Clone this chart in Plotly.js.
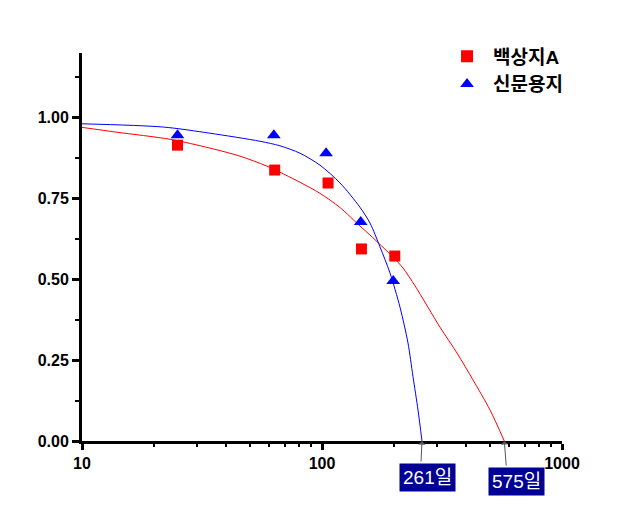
<!DOCTYPE html>
<html>
<head>
<meta charset="utf-8">
<script src="https://cdn.plot.ly/plotly-3.0.1.min.js"></script>
<style>html,body{margin:0;padding:0;background:#fff;}#chart{width:625px;height:524px;}</style>
</head>
<body>
<div id="chart"></div>
<script>
// Measured points
const seriesNames = ['백상지A', '신문용지'];
const paperA_x = [25, 63.5, 106, 146, 201];
const paperA_y = [0.915, 0.838, 0.798, 0.594, 0.572];
const news_x = [25, 63, 104, 145, 198];
const news_y = [0.946, 0.946, 0.89, 0.677, 0.495];

// Fitted curves
const paperA_fit_x = [10, 14.0, 23.3, 34.1, 45.5, 59.0, 81.0, 98.1, 118.9, 143.9, 158.5, 197.6, 217.5, 244.1, 310.2, 365.2, 425.6, 501.2, 575];
const paperA_fit_y = [0.97, 0.955, 0.933, 0.906, 0.881, 0.85, 0.8, 0.766, 0.722, 0.665, 0.637, 0.569, 0.535, 0.48, 0.352, 0.272, 0.189, 0.096, 0];
const news_fit_x = [10, 21.8, 34.1, 55.2, 66.8, 81.0, 98.1, 118.9, 143.9, 158.5, 174.5, 191.9, 211.3, 228.2, 239.3, 251.2, 261];
const news_fit_y = [0.981, 0.971, 0.952, 0.927, 0.913, 0.89, 0.853, 0.798, 0.723, 0.674, 0.6, 0.52, 0.414, 0.303, 0.2, 0.096, 0];

const endDays = [261, 575];
const endLabels = ['261일', '575일'];

const xMajor = [10, 100, 1000];
const xMajorText = ['10', '100', '1000'];
const xMinor = [20,30,40,50,60,70,80,90,200,300,400,500,600,700,800,900];
const yMajor = [0, 0.25, 0.5, 0.75, 1.0];
const yMinor = [0.125, 0.375, 0.625, 0.875, 1.125];

const FONT = 'Arial, "Liberation Sans", "Noto Sans CJK KR", sans-serif';

const traces = [
  {x: paperA_fit_x, y: paperA_fit_y, mode: 'lines', line: {color: '#ff0000', width: 1, shape: 'spline', smoothing: 0.8}, showlegend: false, hoverinfo: 'skip'},
  {x: news_fit_x, y: news_fit_y, mode: 'lines', line: {color: '#0000ff', width: 1, shape: 'spline', smoothing: 0.8}, showlegend: false, hoverinfo: 'skip'},
  {x: paperA_x, y: paperA_y, mode: 'markers', name: seriesNames[0], marker: {symbol: 'square', size: 11, color: '#ff0000'}},
  {x: news_x, y: news_y, mode: 'markers', name: seriesNames[1], marker: {symbol: 'triangle-up', size: 12, color: '#0000ff'}}
];

const tailOffsets = [[-1, 22], [2, 26]];
const labelShift = [[6, -36], [12, -40]];
const annotations = [];
endDays.forEach((d, i) => {
  annotations.push({
    x: Math.log10(d), y: 0, xref: 'x', yref: 'y', text: '', showarrow: true,
    ax: tailOffsets[i][0], ay: tailOffsets[i][1], arrowhead: 1, arrowsize: 1.2, arrowwidth: 1, arrowcolor: '#555'
  });
  annotations.push({
    x: Math.log10(d), y: 0, xref: 'x', yref: 'y', text: endLabels[i], showarrow: false,
    xshift: labelShift[i][0], yshift: labelShift[i][1],
    bgcolor: '#000094', borderpad: 3,
    font: {family: FONT, size: 19, color: '#ffffff'}
  });
});

const layout = {
  width: 625, height: 524,
  margin: {l: 82, r: 63, t: 53, b: 83},
  paper_bgcolor: '#fff', plot_bgcolor: '#fff',
  showlegend: true,
  legend: {x: 0.748, y: 1.04, xanchor: 'left', yanchor: 'top', bgcolor: 'rgba(0,0,0,0)',
    font: {family: FONT, size: 19, color: '#000', weight: 'bold'}, itemsizing: 'constant', itemwidth: 42, tracegroupgap: 2},
  xaxis: {
    type: 'log', range: [1, 3], showgrid: false, zeroline: false,
    showline: true, linewidth: 3, linecolor: '#000',
    tickmode: 'array', tickvals: xMajor, ticktext: xMajorText,
    ticks: 'outside', ticklen: 6, tickwidth: 3, tickcolor: '#000',
    tickfont: {family: FONT, size: 16, color: '#000', weight: 'bold'},
    minor: {tickmode: 'array', tickvals: xMinor, ticks: 'outside', ticklen: 3, tickwidth: 2, tickcolor: '#000', showgrid: false}
  },
  yaxis: {
    range: [0, 1.2], showgrid: false, zeroline: false,
    showline: true, linewidth: 3, linecolor: '#000',
    tickmode: 'array', tickvals: yMajor, tickformat: '.2f',
    ticks: 'outside', ticklen: 7, tickwidth: 3, tickcolor: '#000',
    tickfont: {family: FONT, size: 16, color: '#000', weight: 'bold'},
    minor: {tickmode: 'array', tickvals: yMinor, ticks: 'outside', ticklen: 4, tickwidth: 2, tickcolor: '#000', showgrid: false}
  },
  annotations: annotations
};

Plotly.newPlot('chart', traces, layout, {staticPlot: true, displayModeBar: false});
</script>
</body>
</html>
